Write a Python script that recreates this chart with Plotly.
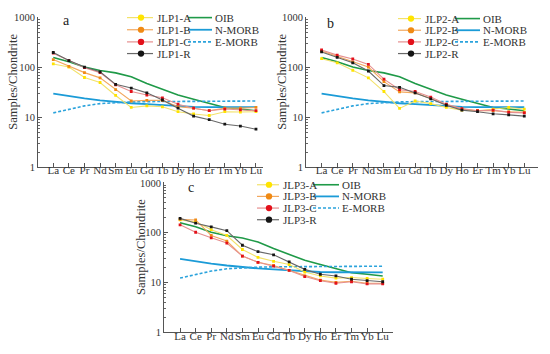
import plotly.graph_objects as go

W, H = 550, 354

elements = ["La", "Ce", "Pr", "Nd", "Sm", "Eu", "Gd", "Tb", "Dy", "Ho", "Er", "Tm", "Yb", "Lu"]
y_tickvals = [1, 10, 100, 1000]
y_ticktext = ["1", "10", "100", "1000"]

# reference curves (chondrite normalised)
oib = [158, 131, 102, 87, 78, 65, 48, 36, 28, 23, 19, 15.8, 14.7, 13.6]
nmorb = [30, 26.7, 24, 22, 20.4, 19.2, 18.4, 17.5, 16.7, 16.3, 16.1, 16, 16, 16]
emorb = [12.3, 14.7, 17, 18.9, 19.8, 20.4, 20.7, 20.8, 20.9, 21, 21, 21.2, 21.3, 21.3]

# panel a
jlp1_a = [118, 102, 63, 50, 27.5, 15.8, 17, 16.3, 13, 11.7, 10.9, 13, 12.8, 13]
jlp1_b = [144, 105, 79, 62, 36, 21.3, 21.9, 21.9, 16.3, 15.3, 13.6, 15.3, 15.3, 15.8]
jlp1_c = [194, 138, 99, 79, 45, 33, 28, 24.7, 18.4, 15.3, 13.6, 14.7, 14.2, 13.6]
jlp1_r = [200, 138, 102, 82, 46, 38.7, 31, 22.3, 15.3, 10.6, 9.0, 7.3, 6.7, 5.8]

# panel b
jlp2_a = [150, 124, 88, 62, 33, 15.1, 21.3, 18.9, 15.8, 14, 13.6, 14.7, 15.8, 14.7]
jlp2_b = [215, 167, 128, 102, 52, 32.5, 31, 24, 17.8, 14.7, 13.6, 13.6, 13, 12.6]
jlp2_c = [225, 177, 148, 115, 58.6, 36, 33, 25.5, 18.4, 15, 13.6, 14, 12.6, 12.3]
jlp2_r = [205, 160, 124, 85, 43.5, 40, 31, 23.6, 17.5, 14, 13, 11.8, 11.2, 10.6]

# panel c
jlp3_a = [180, 165, 115, 88, 46, 32, 26.7, 23, 16.3, 13.6, 12.3, 12.6, 12.1, 11.7]
jlp3_b = [185, 180, 88, 68, 34, 25.5, 22, 17.5, 13.6, 11.2, 10.1, 10.6, 9.7, 9.7]
jlp3_c = [144, 102, 79, 62, 34, 25.5, 21.3, 17.5, 13.2, 10.9, 9.7, 10.4, 9.4, 9.4]
jlp3_r = [194, 155, 131, 110, 56, 41.7, 36, 25.9, 18.4, 14.7, 13.6, 11.7, 10.9, 10.4]

FONT = "Liberation Serif"
sample_styles = [
    ("#f3e26a", "#ffe400"),
    ("#f2a85e", "#f08a14"),
    ("#e68f8f", "#e3101a"),
    ("#686868", "#151515"),
]
ref_names = ["OIB", "N-MORB", "E-MORB"]
ref_data = [oib, nmorb, emorb]
ref_styles = [
    dict(color="#1f9a48", width=1.6, dash="solid"),
    dict(color="#1b9bd7", width=1.8, dash="solid"),
    dict(color="#2ba3dc", width=1.6, dash="3px,2px"),
]

panels = [
    dict(letter="a", names=["JLP1-A", "JLP1-B", "JLP1-C", "JLP1-R"],
         data=[jlp1_a, jlp1_b, jlp1_c, jlp1_r],
         box=(38, 263, 13, 168), xr=(-0.98, 13.45), let=(66, 17), ytitle=(13, 80),
         leg=dict(l0=127, l1=153, mk=141, t1=155, l2=188, l3=212, t2=213, rows=[14, 26.5, 39, 51])),
    dict(letter="b", names=["JLP2-A", "JLP2-B", "JLP2-C", "JLP2-R"],
         data=[jlp2_a, jlp2_b, jlp2_c, jlp2_r],
         box=(306, 538, 13, 168), xr=(-1.0, 13.88), let=(330, 20), ytitle=(282, 80),
         leg=dict(l0=398, l1=421, mk=411, t1=423, l2=455, l3=480, t2=481, rows=[15, 27, 39, 51])),
    dict(letter="c", names=["JLP3-A", "JLP3-B", "JLP3-C", "JLP3-R"],
         data=[jlp3_a, jlp3_b, jlp3_c, jlp3_r],
         box=(164, 393, 183, 338), xr=(-1.03, 13.66), let=(191, 189), ytitle=(141, 250),
         leg=dict(l0=257, l1=279, mk=269, t1=281, l2=313, l3=339, t2=340, rows=[186, 198, 210, 222])),
]

def px(x):
    return x / W

def py(y):
    return 1 - y / H

fig = go.Figure()
shapes = []
annotations = []
minor_vals = [m * 10 ** d for d in range(3) for m in range(2, 10)]

for i, p in enumerate(panels):
    n = "" if i == 0 else str(i + 1)
    xa, ya = "x" + n, "y" + n
    for name, vals, st in zip(ref_names, ref_data, ref_styles):
        fig.add_trace(go.Scatter(x=elements, y=vals, mode="lines", name=name, line=st,
                                 xaxis=xa, yaxis=ya, showlegend=False, hoverinfo="skip"))
    for name, vals, (lc, mc) in zip(p["names"], p["data"], sample_styles):
        fig.add_trace(go.Scatter(x=elements, y=vals, mode="lines+markers", name=name,
                                 line=dict(color=lc, width=1.1),
                                 marker=dict(color=mc, size=2.8, symbol="square"),
                                 xaxis=xa, yaxis=ya, showlegend=False))
    x0, x1, y0, y1 = p["box"]
    axis_common = dict(showgrid=False, zeroline=False, showline=True, linecolor="#555",
                       linewidth=1, ticks="inside", tickcolor="#555",
                       tickfont=dict(family=FONT, size=11, color="#333"))
    fig.layout["xaxis" + n] = dict(axis_common, domain=[px(x0), px(x1)], anchor=ya,
                                   type="category", categoryorder="array",
                                   categoryarray=elements, range=list(p["xr"]), ticklen=4,
                                   tickangle=0, ticklabelstandoff=-7)
    fig.layout["yaxis" + n] = dict(axis_common, domain=[py(y1), py(y0)], anchor=xa,
                                   type="log", range=[0, 3.02], tickmode="array",
                                   tickvals=y_tickvals, ticktext=y_ticktext, ticklen=4,
                                   tickfont=dict(family=FONT, size=10.5, color="#333"),
                                   minor=dict(tickmode="array", tickvals=minor_vals,
                                              ticks="inside", ticklen=2, tickcolor="#666"))
    # y title
    tx, ty = p["ytitle"]
    annotations.append(dict(text="Samples/Chondrite", x=px(tx), y=py(ty), xref="paper", yref="paper",
                            textangle=-90, showarrow=False, xanchor="center", yanchor="middle",
                            font=dict(family=FONT, size=12.5, color="#333")))
    lx, ly = p["let"]
    annotations.append(dict(text=p["letter"], x=px(lx), y=py(ly), xref="paper", yref="paper",
                            showarrow=False, xanchor="center", yanchor="middle",
                            font=dict(family=FONT, size=14, color="#222")))
    # legend
    L = p["leg"]
    for r, (name, (lc, mc)) in enumerate(zip(p["names"], sample_styles)):
        ry = L["rows"][r]
        shapes.append(dict(type="line", xref="paper", yref="paper", x0=px(L["l0"]), x1=px(L["l1"]),
                           y0=py(ry), y1=py(ry), line=dict(color=lc, width=1.2)))
        rad = 3.2
        shapes.append(dict(type="circle", xref="paper", yref="paper",
                           x0=px(L["mk"] - rad), x1=px(L["mk"] + rad),
                           y0=py(ry + rad), y1=py(ry - rad),
                           fillcolor=mc, line=dict(color=mc, width=0)))
        annotations.append(dict(text=name, x=px(L["t1"]), y=py(ry), xref="paper", yref="paper",
                                showarrow=False, xanchor="left", yanchor="middle",
                                font=dict(family=FONT, size=11, color="#333")))
    for r, (name, st) in enumerate(zip(ref_names, ref_styles)):
        ry = L["rows"][r]
        shapes.append(dict(type="line", xref="paper", yref="paper", x0=px(L["l2"]), x1=px(L["l3"]),
                           y0=py(ry), y1=py(ry), line=st))
        annotations.append(dict(text=name, x=px(L["t2"]), y=py(ry), xref="paper", yref="paper",
                                showarrow=False, xanchor="left", yanchor="middle",
                                font=dict(family=FONT, size=11, color="#333")))

fig.update_layout(width=W, height=H, margin=dict(l=0, r=0, t=0, b=0),
                  paper_bgcolor="white", plot_bgcolor="white", showlegend=False,
                  shapes=shapes, annotations=annotations)
fig.write_html("out.html", config={"displayModeBar": False},
               post_script="document.body.style.margin='0';document.body.style.overflow='hidden';")
